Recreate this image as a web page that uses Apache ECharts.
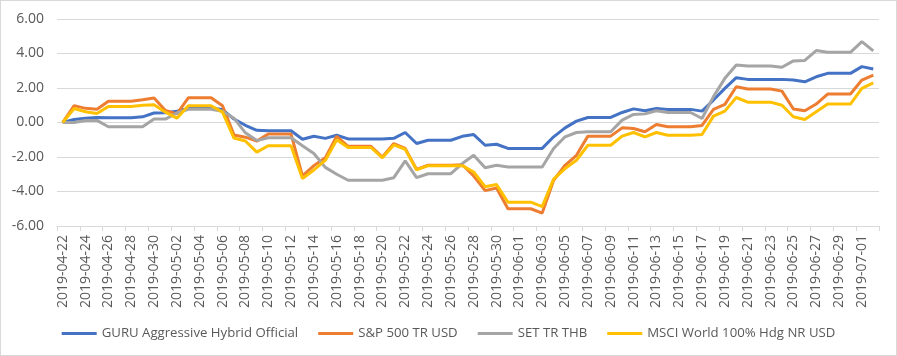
<!DOCTYPE html>
<html>
<head>
<meta charset="utf-8">
<script src="https://cdn.jsdelivr.net/npm/echarts@6/dist/echarts.min.js"></script>
<style>
html,body{margin:0;padding:0;background:#fff;}
#c{width:897px;height:356px;box-sizing:border-box;border:1px solid #d9d9d9;}
</style>
</head>
<body>
<div id="c"></div>
<script>
const dates = ["2019-04-22","2019-04-23","2019-04-24","2019-04-25","2019-04-26","2019-04-27","2019-04-28","2019-04-29","2019-04-30","2019-05-01","2019-05-02","2019-05-03","2019-05-04","2019-05-05","2019-05-06","2019-05-07","2019-05-08","2019-05-09","2019-05-10","2019-05-11","2019-05-12","2019-05-13","2019-05-14","2019-05-15","2019-05-16","2019-05-17","2019-05-18","2019-05-19","2019-05-20","2019-05-21","2019-05-22","2019-05-23","2019-05-24","2019-05-25","2019-05-26","2019-05-27","2019-05-28","2019-05-29","2019-05-30","2019-05-31","2019-06-01","2019-06-02","2019-06-03","2019-06-04","2019-06-05","2019-06-06","2019-06-07","2019-06-08","2019-06-09","2019-06-10","2019-06-11","2019-06-12","2019-06-13","2019-06-14","2019-06-15","2019-06-16","2019-06-17","2019-06-18","2019-06-19","2019-06-20","2019-06-21","2019-06-22","2019-06-23","2019-06-24","2019-06-25","2019-06-26","2019-06-27","2019-06-28","2019-06-29","2019-06-30","2019-07-01","2019-07-02"];

const guru = [0,0.17,0.25,0.29,0.27,0.27,0.27,0.33,0.55,0.56,0.65,0.82,0.82,0.82,0.75,0.2,-0.16,-0.45,-0.48,-0.48,-0.48,-0.97,-0.8,-0.92,-0.74,-0.95,-0.95,-0.95,-0.95,-0.92,-0.58,-1.22,-1.03,-1.03,-1.03,-0.8,-0.7,-1.32,-1.26,-1.5,-1.5,-1.5,-1.5,-0.83,-0.31,0.08,0.29,0.29,0.29,0.58,0.79,0.68,0.81,0.76,0.76,0.76,0.66,1.3,1.98,2.6,2.5,2.5,2.5,2.5,2.46,2.36,2.65,2.85,2.85,2.85,3.24,3.1];

const sp500 = [0,0.98,0.82,0.77,1.23,1.23,1.23,1.32,1.42,0.7,0.5,1.43,1.43,1.43,0.97,-0.72,-0.85,-1.08,-0.67,-0.67,-0.67,-3.1,-2.5,-2.05,-0.8,-1.38,-1.38,-1.38,-2.0,-1.22,-1.5,-2.72,-2.48,-2.48,-2.48,-2.45,-3.1,-3.95,-3.8,-5.0,-5.0,-5.0,-5.25,-3.35,-2.48,-1.9,-0.79,-0.79,-0.79,-0.31,-0.35,-0.54,-0.12,-0.25,-0.25,-0.25,-0.17,0.76,1.05,2.07,1.94,1.94,1.94,1.82,0.78,0.68,1.07,1.65,1.65,1.65,2.46,2.75];

const setTR = [0,0,0.12,0.12,-0.25,-0.25,-0.25,-0.25,0.2,0.2,0.55,0.77,0.77,0.77,0.65,0.25,-0.6,-1.05,-0.88,-0.88,-0.88,-1.35,-1.8,-2.6,-3.0,-3.35,-3.35,-3.35,-3.35,-3.2,-2.23,-3.2,-2.97,-2.97,-2.97,-2.38,-1.9,-2.62,-2.48,-2.58,-2.58,-2.58,-2.58,-1.51,-0.83,-0.58,-0.54,-0.54,-0.54,0.14,0.47,0.5,0.68,0.58,0.58,0.58,0.23,1.5,2.56,3.33,3.28,3.28,3.28,3.2,3.57,3.6,4.17,4.07,4.07,4.07,4.69,4.15];

const msci = [0,0.81,0.62,0.52,0.93,0.93,0.93,1.0,1.03,0.6,0.25,0.97,0.97,0.97,0.6,-0.9,-1.07,-1.72,-1.35,-1.35,-1.35,-3.25,-2.75,-2.2,-1.0,-1.45,-1.45,-1.45,-2.05,-1.3,-1.55,-2.75,-2.5,-2.5,-2.5,-2.5,-2.87,-3.72,-3.6,-4.62,-4.62,-4.62,-4.88,-3.28,-2.67,-2.19,-1.32,-1.32,-1.32,-0.79,-0.58,-0.83,-0.58,-0.74,-0.74,-0.74,-0.7,0.37,0.66,1.45,1.18,1.18,1.18,1.0,0.33,0.17,0.62,1.07,1.07,1.07,1.98,2.3];

const seriesNames = ["GURU Aggressive Hybrid Official","S&P 500 TR USD","SET TR THB","MSCI World 100% Hdg NR USD"];
const seriesData = [guru, sp500, setTR, msci];
const colors = ["#4472C4","#ED7D31","#A5A5A5","#FFC000"];

const FONT = "Open Sans";
const chart = echarts.init(document.getElementById('c'));
chart.setOption({
  animation: false,
  color: colors,
  grid: {left: 56, right: 17, top: 18, bottom: 129, containLabel: false},
  legend: {
    bottom: 10, left: 'center',
    icon: 'rect', itemWidth: 35, itemHeight: 3, itemGap: 20,
    textStyle: {fontFamily: FONT, fontSize: 13.2, color: '#595959'},
    data: seriesNames
  },
  xAxis: [{
    type: 'category', data: dates, boundaryGap: true,
    axisLine: {show: false}, axisTick: {show: false},
    axisLabel: {rotate: 90, interval: 1, fontFamily: FONT, fontSize: 14, color: '#595959', margin: 9}
  }, {
    type: 'category', data: dates, boundaryGap: true, position: 'bottom',
    axisLine: {show: true, onZero: true, lineStyle: {color: '#d9d9d9', width: 1}},
    axisTick: {show: true, interval: 1, length: 5, lineStyle: {color: '#d9d9d9'}},
    axisLabel: {show: false}
  }],
  yAxis: {
    type: 'value', min: -6, max: 6, interval: 2,
    axisLine: {show: false}, axisTick: {show: false},
    splitLine: {lineStyle: {color: '#d9d9d9', width: 1}},
    axisLabel: {fontFamily: FONT, fontSize: 14, color: '#595959', margin: 13,
      formatter: v => v.toFixed(2)}
  },
  series: seriesNames.map((n, i) => ({
    name: n, type: 'line', data: seriesData[i], xAxisIndex: 0,
    symbol: 'none', lineStyle: {width: 3, color: colors[i]},
    itemStyle: {color: colors[i]}
  }))
});
</script>
</body>
</html>
